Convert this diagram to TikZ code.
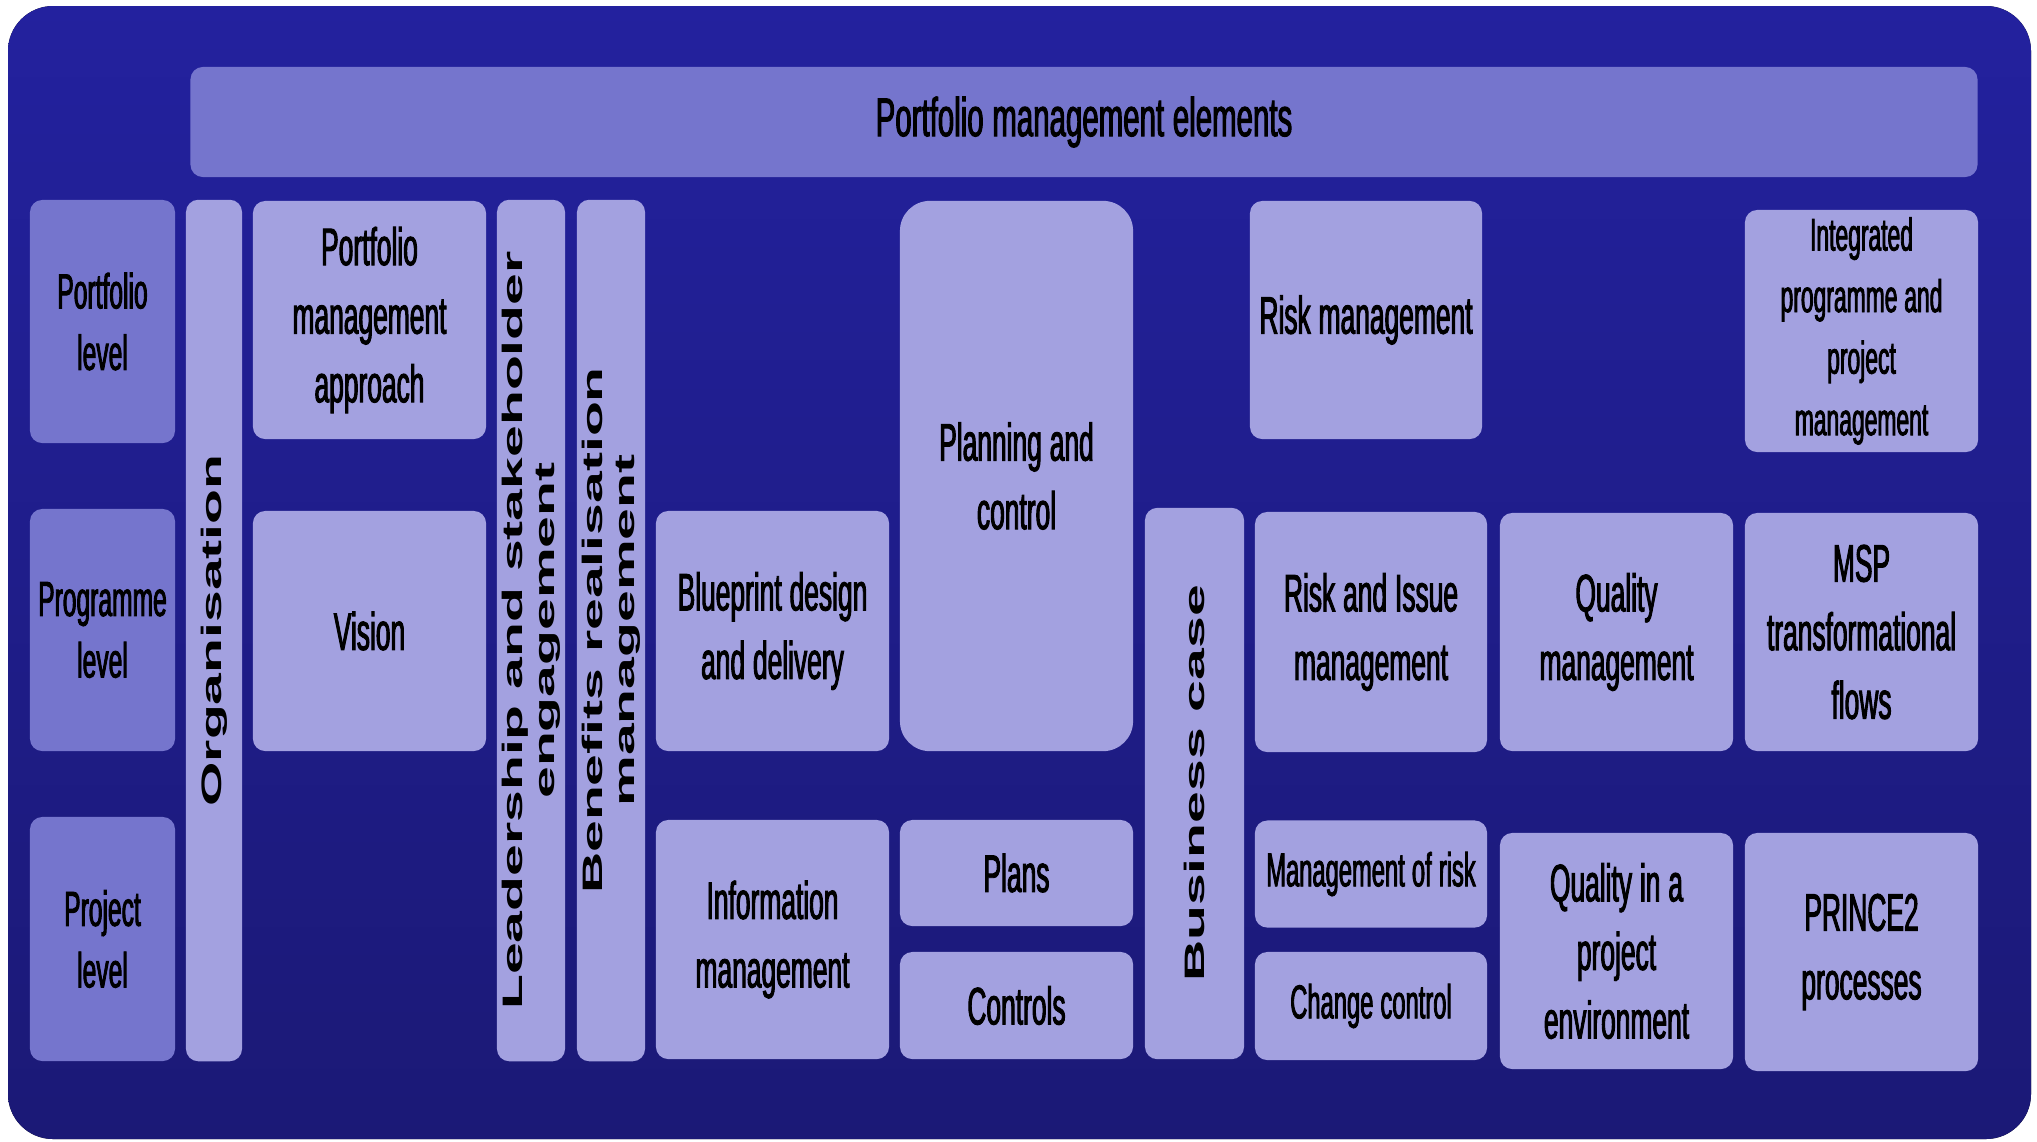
\documentclass[tikz,border=0pt]{standalone}
\usepackage{fontspec}
\setmainfont{Liberation Sans}
\newfontfamily\etroitbase[FakeStretch=0.5,FakeBold=1.8]{Liberation Sans}
\newfontfamily\titrebase[FakeStretch=0.54,FakeBold=1.8]{Liberation Sans}
\newfontfamily\elargi[FakeStretch=2.03]{Liberation Sans}
\newcommand\etroit{\etroitbase\fontdimen2\font=0.15em}
\newcommand\titre{\titrebase\fontdimen2\font=0.16em}
\usepackage{tikz}
\definecolor{fond}{RGB}{35,33,158}
\definecolor{fondb}{RGB}{27,25,118}
\definecolor{lavf}{RGB}{117,117,205}
\definecolor{lavc}{RGB}{163,161,224}

\begin{document}
\begin{tikzpicture}[x=0.01cm, y=-0.01cm,
  c/.style 2 args={rectangle, rounded corners=3.5pt, fill=lavc, inner xsep=0pt, inner ysep=1pt,
                   minimum width=#1, minimum height=#2, text width=#1, align=flush center,
                   font=\fontsize{15pt}{19.5pt}\etroit\selectfont\etroit},
  f/.style={fill=lavf},
  t/.style={font=\fontsize{#1}{17.5pt}\etroit\selectfont\etroit},
  v/.style 2 args={rectangle, rounded corners=3.5pt, fill=lavc, rotate=90, inner sep=1pt,
                   minimum width=#2, minimum height=#1, align=flush center,
                   font=\elargi\bfseries\fontsize{8pt}{9pt}\selectfont}]
\useasboundingbox (0,0) rectangle (2037,1141);
\fill[rounded corners=0.45cm, top color=fond, bottom color=fondb] (8,6) rectangle (2031,1139);

% en-tete
\node[c={17.86cm}{1.10cm}, f, font=\fontsize{15.5pt}{18pt}\titre\selectfont\titre] (titre) at (1084,122) {Portfolio management elements};

% niveaux
\node[c={1.45cm}{2.43cm}, f, t=14pt] (portf) at (102.5,321.5) {Portfolio\\ level};
\node[c={1.45cm}{2.42cm}, f, t=14pt] (progr) at (102.5,630) {Programme\\ level};
\node[c={1.45cm}{2.44cm}, f, t=14pt] (proj) at (102.5,939) {Project\\ level};

% bandes verticales
\node[v={0.56cm}{8.61cm}] (org) at (214,630.5) {Organisation};
\node[v={0.68cm}{8.61cm}] (lead) at (531,630.5) {Leadership and stakeholder\\ engagement};
\node[v={0.68cm}{8.61cm}] (benef) at (611,630.5) {Benefits realisation\\ management};
\node[v={0.99cm}{5.51cm}] (bcase) at (1194.5,783.5) {Business case};

% elements
\node[c={2.33cm}{2.38cm}] (appr) at (369.5,320) {Portfolio\\ management\\ approach};
\node[c={2.33cm}{2.40cm}] (vision) at (369.5,631) {Vision};
\node[c={2.33cm}{2.40cm}] (blue) at (772.5,631) {Blueprint design\\ and delivery};
\node[c={2.33cm}{2.39cm}] (info) at (772.5,939.5) {Information\\ management};
\node[c={2.33cm}{5.50cm}, rounded corners=0.3cm] (plan) at (1016.5,476) {Planning and\\ control};
\node[c={2.33cm}{1.06cm}] (plans) at (1016.5,873) {Plans};
\node[c={2.33cm}{1.07cm}] (ctrl) at (1016.5,1005.5) {Controls};
\node[c={2.32cm}{2.38cm}] (risk) at (1366,320) {Risk management};
\node[c={2.32cm}{2.40cm}] (riss) at (1371,632) {Risk and Issue\\ management};
\node[c={2.32cm}{1.07cm}, t=13.5pt] (mor) at (1371,874) {Management of risk};
\node[c={2.32cm}{1.08cm}, t=13.5pt] (chg) at (1371,1006) {Change control};
\node[c={2.33cm}{2.38cm}] (qual) at (1616.5,632) {Quality\\ management};
\node[c={2.33cm}{2.36cm}] (qpe) at (1616.5,951) {Quality in a\\ project\\ environment};
\node[c={2.33cm}{2.42cm}, t=13pt] (integ) at (1861.5,331) {Integrated\\ programme and\\ project\\ management};
\node[c={2.33cm}{2.38cm}] (msp) at (1861.5,632) {MSP\\ transformational\\ flows};
\node[c={2.33cm}{2.38cm}] (prince) at (1861.5,952) {PRINCE2\\ processes};
\end{tikzpicture}
\end{document}
